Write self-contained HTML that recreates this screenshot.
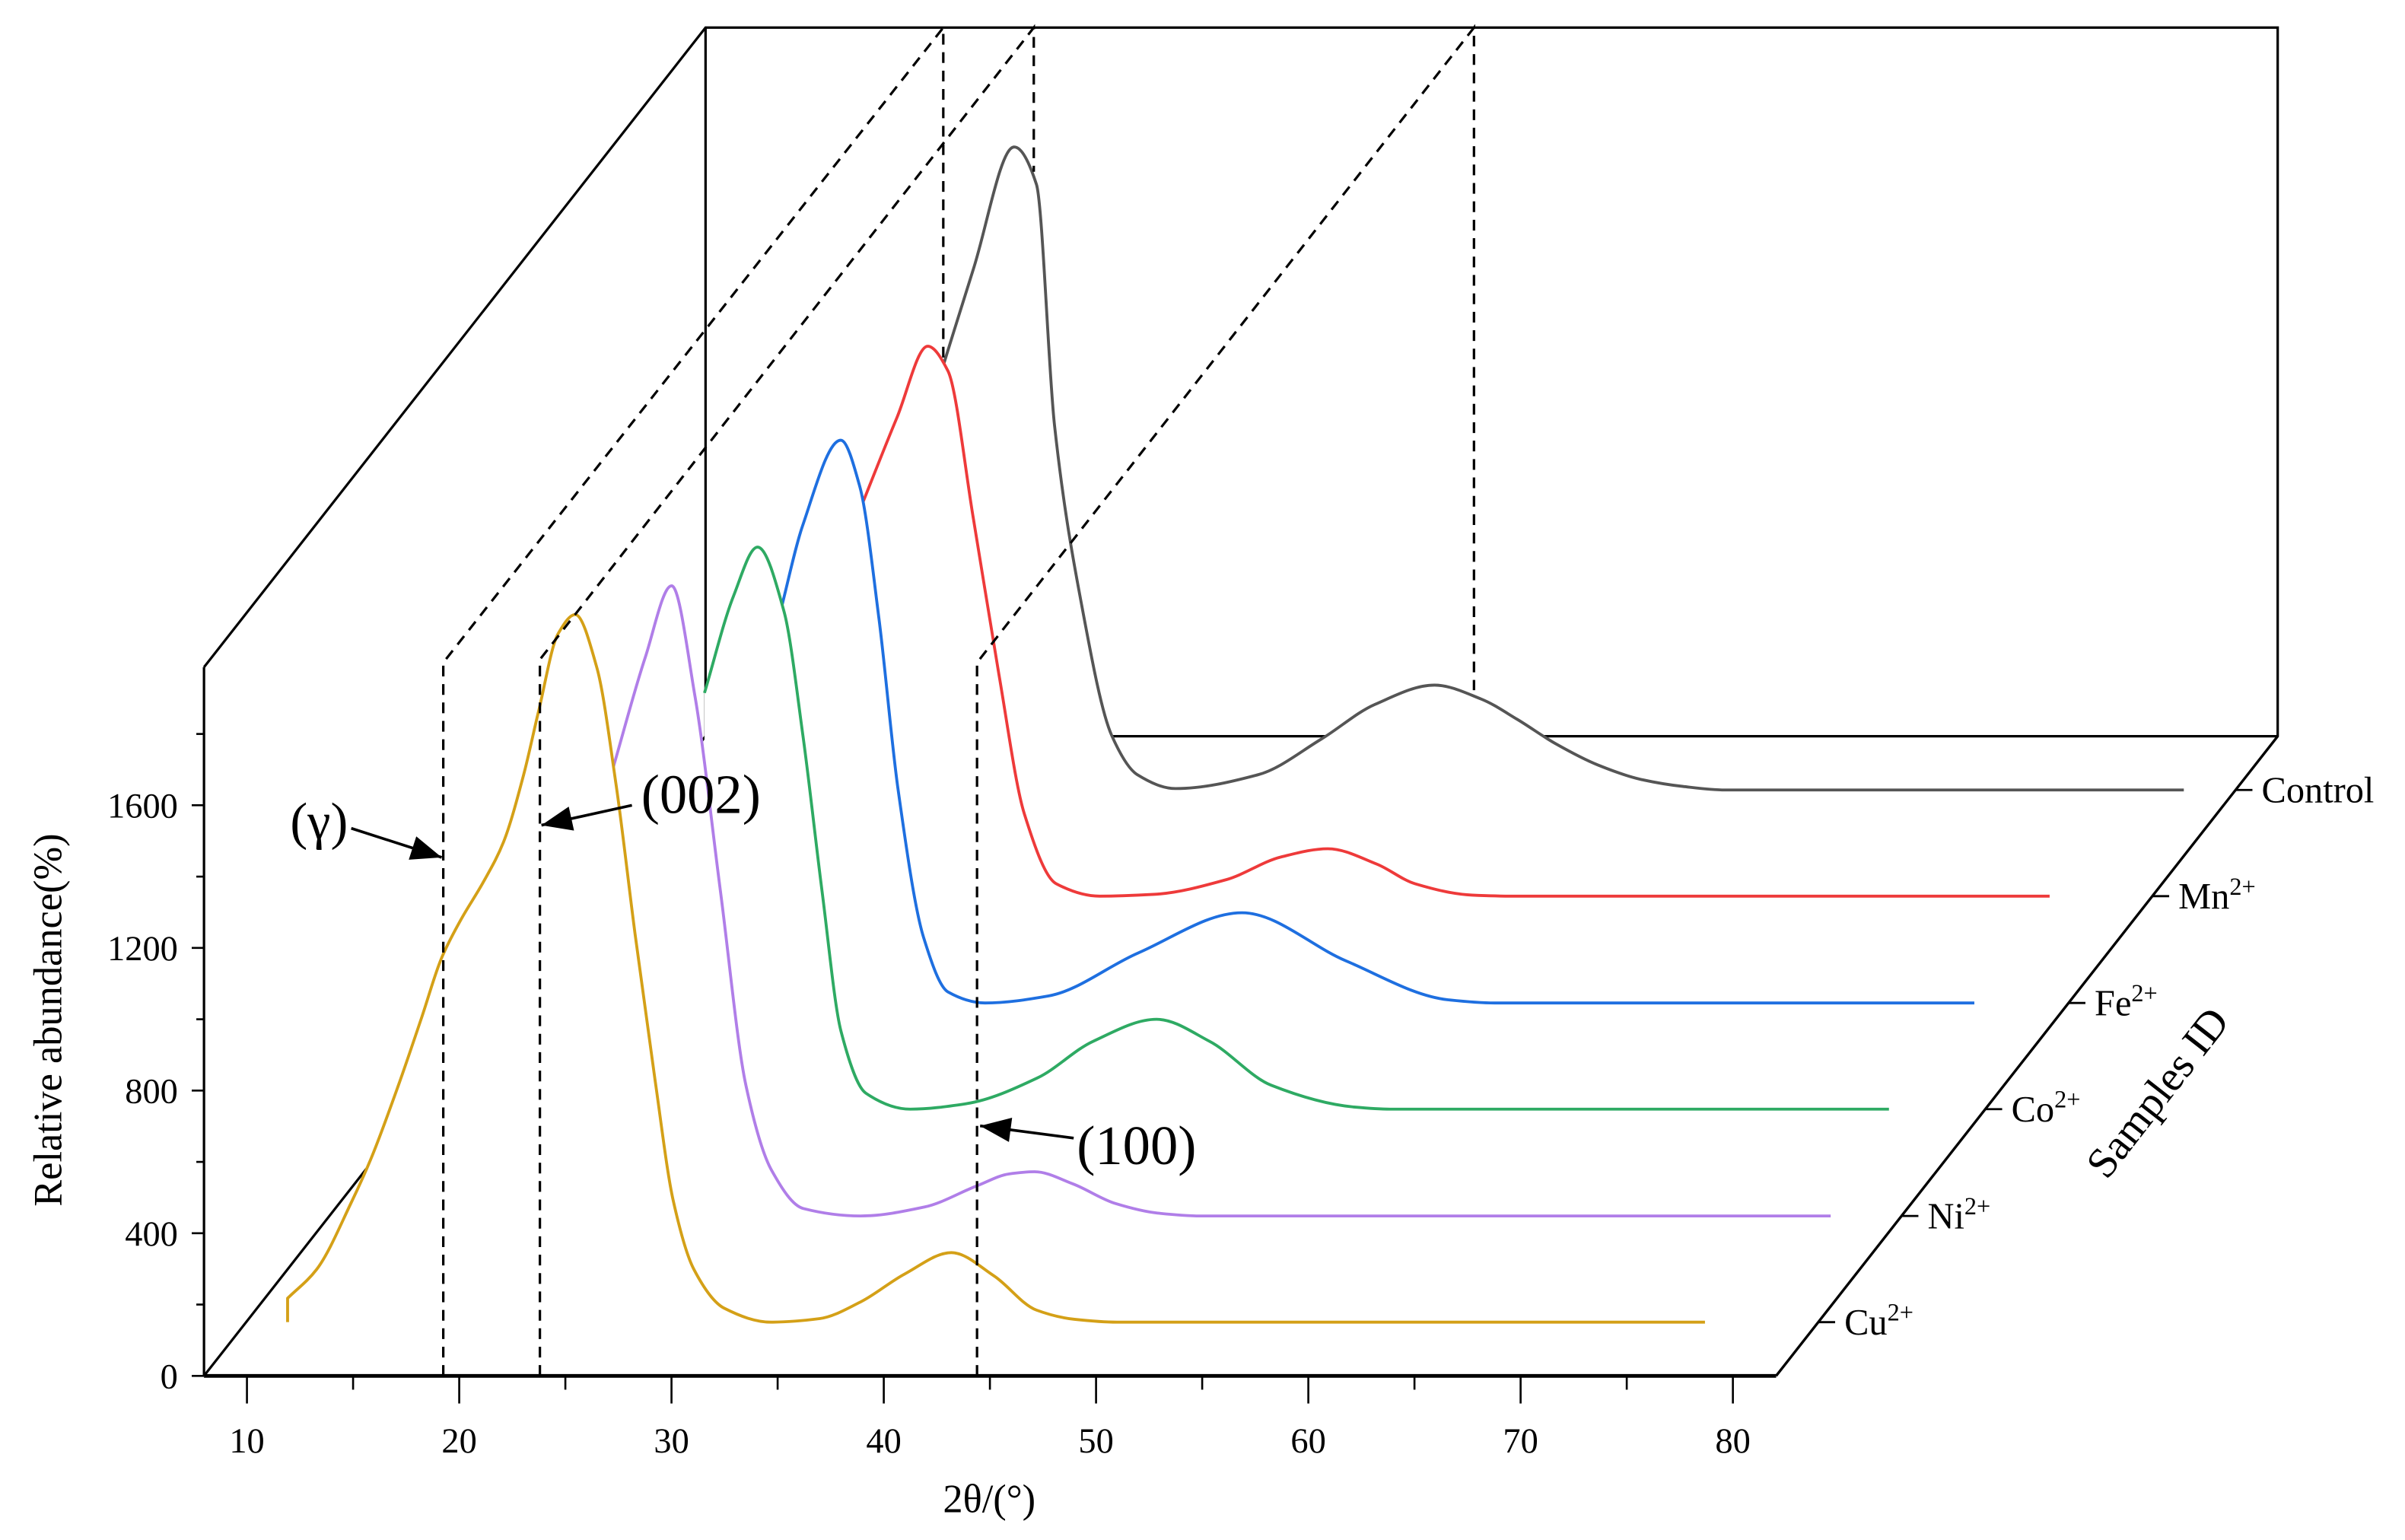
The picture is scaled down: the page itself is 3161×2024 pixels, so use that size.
<!DOCTYPE html>
<html><head><meta charset="utf-8"><style>
html,body{margin:0;padding:0;background:#fff}
svg{display:block}
text{font-family:"Liberation Serif",serif;fill:#000}
</style></head><body>
<svg id="chart" width="3161" height="2024" viewBox="0 0 1568 1004" xmlns="http://www.w3.org/2000/svg">
<defs>
<marker id="ahb" viewBox="0 0 10 8" markerWidth="24" markerHeight="16" refX="10" refY="4" orient="auto" markerUnits="userSpaceOnUse"><path d="M0,0 L10,4 L0,8 Z" fill="#000"/></marker></defs>
<g id="back"></g>
<g id="series"></g>
<g id="front"></g>
<g id="anno"></g>
</svg>
<script>
const sampleNames = ["Cu","Ni","Co","Fe","Mn","Control"];
const sampleDepth = [0.084,0.25,0.417,0.583,0.75,0.916];
const seriesColors = ["#d4a017","#b07ee8","#2eaa63","#1e6fe0","#ee3a3a","#555555"];
const xTicks = [10,20,30,40,50,60,70,80];
const yTicks = [0,400,800,1200,1600];
const cuTheta = [9.93,11.3,12.95,13.87,15.15,16.25,17.17,18.07,19.17,20.1,21.05,21.75,22.67,23.48,24.5,25.4,26.3,27.24,28.1,29.07,30.5,32.7,35,36.9,39,41.2,43.2,45.2,47,49,76.7];
const cuVal = [67,148,338,460,664,855,1019,1126,1236,1346,1535,1712,1930,1984,1835,1509,1088,679,340,148,39,0,10,56,135,195,130,34,8,0,0];
const niTheta = [21.36,22.85,24.1,25.2,26.4,27.6,28.8,30.3,33,36,38.5,40,41.2,43,45,47,49,78.7];
const niVal = [1260,1565,1767,1457,910,366,129,21,0,25,85,118,124,90,35,8,0,0];
const coTheta = [21.7,23.07,24.2,25.45,26.34,27.24,28.13,29.3,31.4,34,37.4,40,43,45.5,48.4,52.3,54,77.5];
const coVal = [1167,1439,1576,1395,1047,611,219,45,0,15,88,190,252,190,67,6,0,0];
const feTheta = [21.36,22.4,24.2,25.1,26,26.9,28.1,29.25,31,34,38.2,43.1,48,52.8,55,77.6];
const feVal = [1098,1338,1578,1447,1077,598,184,31,0,20,140,253,118,9,0,0];
const mnTheta = [21.28,22.9,24.35,25.3,26.5,27.7,28.9,30.4,32.45,35,38.4,41,43.2,45.5,47.3,50,52,77.2];
const mnVal = [1102,1342,1542,1473,1059,623,231,35,0,5,46,110,133,90,35,3,0,0];
const ctTheta = [21.2,22.57,24.5,25.55,26.4,27.6,29.1,30.3,32.1,36,38.95,41.5,44.3,46.5,48.2,50,52,54,56,58,79.6];
const ctVal = [1198,1459,1803,1698,1023,544,152,43,4,43,142,240,294,255,198,130,70,30,10,0,0];
const seriesTheta = [cuTheta,niTheta,coTheta,feTheta,mnTheta,ctTheta];
const seriesVal = [cuVal,niVal,coVal,feVal,mnVal,ctVal];

const NS="http://www.w3.org/2000/svg";
const DX=327, DY=417;
function xs(t,d){return 161+(t-10)*13.84+d*DX;}
function ys(v,d){return 897-d*DY-v*93/400;}
function mk(tag,attrs,parent){const e=document.createElementNS(NS,tag);for(const k in attrs)e.setAttribute(k,attrs[k]);parent.appendChild(e);return e;}
function smooth(p){
  const n=p.length;if(n<2)return "";
  const dlt=[],h=[];
  for(let i=0;i<n-1;i++){h[i]=p[i+1][0]-p[i][0];dlt[i]=(p[i+1][1]-p[i][1])/h[i];}
  const m=new Array(n);
  m[0]=dlt[0];m[n-1]=dlt[n-2];
  for(let i=1;i<n-1;i++){
    if(dlt[i-1]*dlt[i]<=0)m[i]=0;
    else{const w1=2*h[i]+h[i-1],w2=h[i]+2*h[i-1];m[i]=(w1+w2)/(w1/dlt[i-1]+w2/dlt[i]);}
  }
  let s="";
  for(let i=0;i<n-1;i++){
    const x1=p[i][0]+h[i]/3,y1=p[i][1]+m[i]*h[i]/3,x2=p[i+1][0]-h[i]/3,y2=p[i+1][1]-m[i+1]*h[i]/3;
    s+=` C${x1.toFixed(2)},${y1.toFixed(2)} ${x2.toFixed(2)},${y2.toFixed(2)} ${p[i+1][0].toFixed(2)},${p[i+1][1].toFixed(2)}`;
  }
  return s;
}

const back=document.getElementById('back');
let l;
l=mk('polyline',{points:"133,435 460,18 1485,18 1485,480 1158,897",fill:"none",stroke:"#000","stroke-width":1.6},back);

l=mk('line',{x1:460,y1:18,x2:460,y2:480,stroke:"#000","stroke-width":1.6},back);

l=mk('line',{x1:460,y1:480,x2:1485,y2:480,stroke:"#000","stroke-width":1.6},back);

l=mk('line',{x1:133,y1:897,x2:460,y2:480,stroke:"#000","stroke-width":1.6},back);


const sg=document.getElementById('series');
for(let i=sampleNames.length-1;i>=0;i--){
  const d=sampleDepth[i];
  const pts=seriesTheta[i].map((t,j)=>[xs(t,d),ys(seriesVal[i][j],d)]);
  const b=ys(0,d);
  const sm=smooth(pts);
  const fill=mk('path',{d:`M${pts[0][0]},${b} L${pts[0][0]},${pts[0][1]}`+sm+` L${pts[pts.length-1][0]},${b} Z`,fill:"#fff",stroke:"none"},sg);
  
  
  const st=(i===0)?`M${pts[0][0]},${b} L${pts[0][0]},${pts[0][1]}`+sm:("M"+pts[0][0].toFixed(2)+","+pts[0][1].toFixed(2)+sm);
  const line=mk('path',{d:st,fill:"none",stroke:seriesColors[i],"stroke-width":1.9,"stroke-linejoin":"round"},sg);
  
  
}

const fr=document.getElementById('front');
l=mk('line',{x1:133,y1:897,x2:1158,y2:897,stroke:"#000","stroke-width":2.4},fr);

l=mk('line',{x1:133,y1:435,x2:133,y2:897,stroke:"#000","stroke-width":1.6},fr);

l=mk('line',{x1:1158,y1:897,x2:1485,y2:480,stroke:"#000","stroke-width":1.6},fr);

for(let t=10;t<=80;t+=5){const major=(t%10===0);
  l=mk('line',{x1:xs(t,0),y1:897,x2:xs(t,0),y2:major?915:906,stroke:"#000","stroke-width":1.3},fr);
  }
xTicks.forEach(t=>{const tx=mk('text',{x:xs(t,0),y:947,"font-size":23,"text-anchor":"middle"},fr);tx.textContent=t;
  });
for(let v=0;v<=1800;v+=200){const major=(v%400===0);
  l=mk('line',{x1:133,y1:ys(v,0),x2:major?125:128,y2:ys(v,0),stroke:"#000","stroke-width":1.3},fr);
  }
yTicks.forEach(v=>{const tx=mk('text',{x:116,y:ys(v,0)+8,"font-size":23,"text-anchor":"end"},fr);tx.textContent=v;
  });
sampleNames.forEach((n,i)=>{const d=sampleDepth[i];const x=1158+d*DX,y=897-d*DY;
  l=mk('line',{x1:x,y1:y,x2:x+11,y2:y,stroke:"#000","stroke-width":1.4},fr);
  
  const tx=mk('text',{x:x+17,y:y+8,"font-size":24},fr);
  
  tx.textContent=n;
  if(n!=="Control"){const s=mk('tspan',{dy:-9,"font-size":16},tx);s.textContent="2+";}
});
let t;
t=mk('text',{x:645,y:986,"font-size":26,"text-anchor":"middle"},fr);t.textContent="2θ/(°)";

t=mk('text',{x:0,y:0,"font-size":26,"text-anchor":"middle",transform:"translate(40,665) rotate(-90)"},fr);t.textContent="Relative abundance(%)";

t=mk('text',{x:0,y:0,"font-size":28,"text-anchor":"middle",transform:"translate(1414,718) rotate(-52)"},fr);t.textContent="Samples ID";


const an=document.getElementById('anno');
const dashed={stroke:"#000","stroke-width":1.6,"stroke-dasharray":"7,5",fill:"none"};
function dl(pts,name){const p=mk('polyline',Object.assign({points:pts},dashed),an);}
dl("289,897 289,432 615,18 615,237","gamma-guide-line");
dl("352,897 352,430 674,18 674,112","peak-002-guide-line");
dl("637,897 637,432 961,18 961,450","peak-100-guide-line");
function arrow(x1,y1,x2,y2,name){const a=mk('line',{x1,y1,x2,y2,stroke:"#000","stroke-width":1.8,"marker-end":"url(#ahb)"},an);}
arrow(229,540,288,559,"gamma-arrow");
arrow(412,525,353,538,"peak-002-arrow");
arrow(700,742,639,734,"peak-100-arrow");
t=mk('text',{x:208,y:547,"font-size":34,"text-anchor":"middle"},an);t.textContent="(γ)";

t=mk('text',{x:457,y:530,"font-size":36,"text-anchor":"middle"},an);t.textContent="(002)";

t=mk('text',{x:741,y:759,"font-size":36,"text-anchor":"middle"},an);t.textContent="(100)";

</script>
</body></html>
